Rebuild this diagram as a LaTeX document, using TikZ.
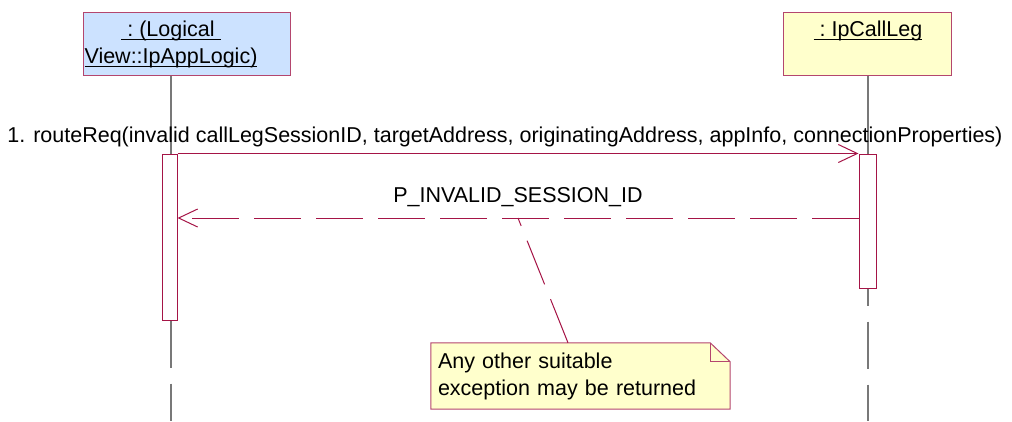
\documentclass[tikz,border=0pt]{standalone}
\usepackage{fontspec}
\setmainfont{Liberation Sans}
\usepackage{xcolor}
\usetikzlibrary{arrows.meta,positioning,calc,backgrounds}
\definecolor{seqred}{RGB}{165,20,70}
\definecolor{seqrose}{RGB}{180,70,110}
\definecolor{seqgray}{RGB}{120,120,120}
\definecolor{objblue}{RGB}{204,226,255}
\definecolor{objyellow}{RGB}{255,255,204}
\newcommand{\uname}[1]{\setbox0\hbox{#1}\rlap{\rule[-3.5pt]{\wd0}{1.3pt}}\box0}
\tikzset{
  seqobj/.style={draw=seqrose, line width=1pt, inner sep=0pt},
  seqname/.style={align=center, inner sep=0pt, anchor=north},
  seqact/.style={draw=seqred, fill=white, line width=1pt, inner sep=0pt},
  seqlife/.style={draw=seqgray, line width=1.3pt},
  seqmsg/.style={draw=seqred, line width=1pt, -{Straight Barb[length=19pt,width=18pt]}},
  seqret/.style={seqmsg, dash pattern=on 47pt off 15pt},
  seqnote/.style={align=left, text width=285pt, inner xsep=7pt, minimum height=66pt}
}

\begin{document}
\begin{tikzpicture}[x=1pt, y=-1pt, font=\fontsize{21.5}{27}\selectfont]
\useasboundingbox (0,0) rectangle (1012,421);
% objects
\node[seqobj, fill=objblue, minimum width=207pt, minimum height=63pt] (app) at (186.5,43.5) {};
\node[seqobj, fill=objyellow, minimum width=168pt, minimum height=63pt] (leg) at (867,43.5) {};
\node[seqname] (appname) at (171,21) {\uname{\ :\ (Logical\ }\\\uname{View::IpAppLogic)}};
\node[seqname] (legname) at (868,21) {\uname{\ :\ IpCallLeg}};
% activations
\node[seqact, minimum width=15pt, minimum height=166pt] (actA) at (169.5,237) {};
\node[seqact, minimum width=17pt, minimum height=134pt] (actB) at (867.5,221) {};
% lifelines
\draw[seqlife] (appname |- app.south) -- (appname |- actA.north);
\draw[seqlife] (legname |- leg.south) -- (legname |- actB.north);
\draw[seqlife, dash pattern=on 47pt off 16pt] (appname |- actA.south) -- (appname |- 0,421);
\draw[seqlife, dash pattern=on 47pt off 16pt, dash phase=30pt] (legname |- actB.south) -- (legname |- 0,421);
% messages
\draw[seqmsg] (actA.north east) -- node[above=3pt, xshift=-13pt] {1. routeReq(invalid callLegSessionID, targetAddress, originatingAddress, appInfo, connectionProperties)} (actB.north west);
\draw[seqret] (actB.west |- 0,218) -- node[above=7pt] (retlbl) {P\_INVALID\_SESSION\_ID} coordinate[pos=0.5] (retpt) (actA.east |- 0,218);
% note
\node[seqnote] (note) at (580.5,376) {Any other suitable\\exception may be returned};
\begin{scope}[on background layer]
\draw[seqrose, fill=objyellow, line width=1pt] (note.north west) -- ([xshift=-20pt]note.north east) -- ([yshift=-19pt]note.north east) -- (note.south east) -- (note.south west) -- cycle;
\end{scope}
\draw[seqrose, line width=1pt] ([xshift=-20pt]note.north east) |- ([yshift=-19pt]note.north east);
\draw[seqred, line width=1pt, dash pattern=on 47pt off 16pt] ([xshift=-12.5pt]note.north) -- (retpt);
\end{tikzpicture}
\end{document}
